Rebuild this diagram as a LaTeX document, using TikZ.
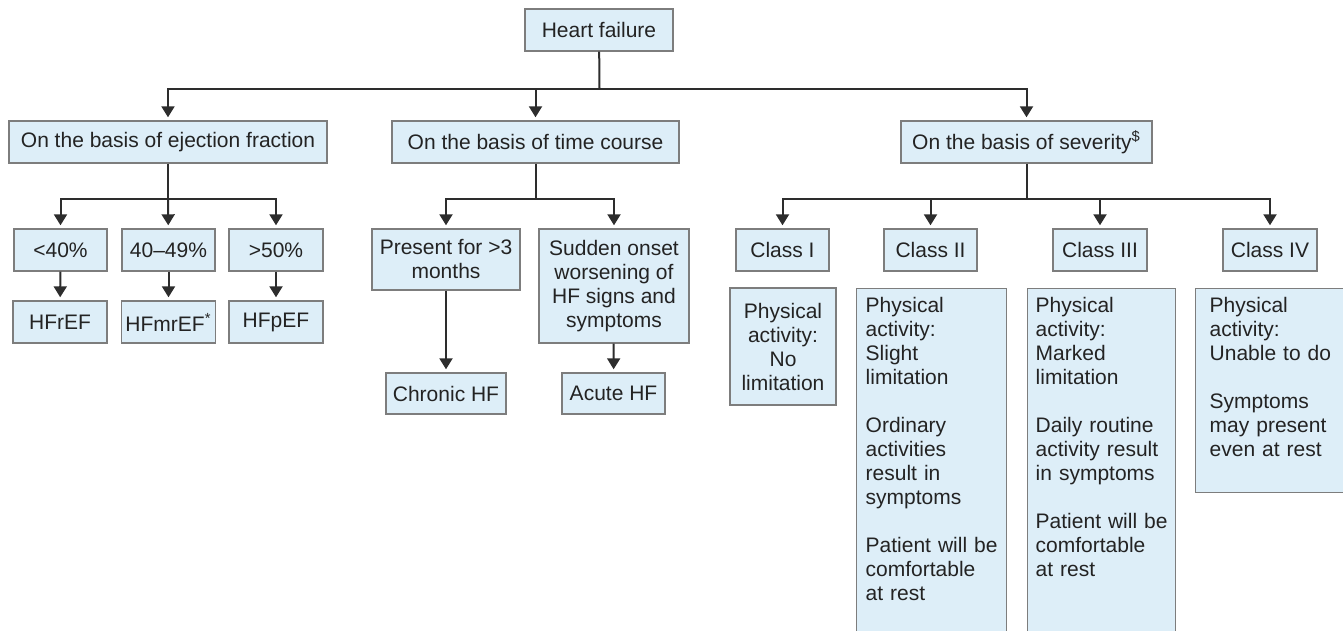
\documentclass[tikz,border=0pt]{standalone}
\usepackage{fontspec}
\setmainfont{Liberation Sans}
\usetikzlibrary{arrows.meta}
\definecolor{boxfill}{RGB}{221,238,248}
\definecolor{boxline}{RGB}{125,125,125}
\definecolor{linkcol}{RGB}{45,45,45}
\definecolor{txtcol}{RGB}{35,35,35}

\begin{document}
\begin{tikzpicture}
    [x=0.5pt,y=-0.5pt,>={Triangle[length=5.5pt,width=6.5pt]},
     box/.style={rectangle,draw=boxline,fill=boxfill,line width=0.7pt,text=txtcol,
       font=\fontsize{10.5}{12}\selectfont,inner sep=2pt,minimum height=21pt,align=center},
     descbox/.style={box,anchor=north west,align=left,inner xsep=4.5pt,inner ysep=4pt,text height=8pt},
     link/.style={draw=linkcol,line width=1pt},
     linkarr/.style={link,->,shorten >=1.5pt}]
    \useasboundingbox (0,0) rectangle (1343,631);
    \node (hf)      at (599,30)     [box,minimum width=74pt]    {Heart failure};
    \node (ejfrac)  at (168,142)    [box,minimum width=159pt]   {On the basis of ejection fraction};
    \node (timecrs) at (535.5,142)  [box,minimum width=143.5pt] {On the basis of time course};
    \node (sever)   at (1026.5,142) [box,minimum width=125.5pt] {On the basis of severity\textsuperscript{\$}};
    \node (lt40)    at (60.5,250)   [box,minimum width=46.5pt]  {<40\%};
    \node (mid)     at (168.5,250)  [box,minimum width=46.5pt]  {40\textendash 49\%};
    \node (gt50)    at (276,250)    [box,minimum width=47pt]    {>50\%};
    \node (hfref)   at (60,322)     [box,minimum width=47pt]    {HFrEF};
    \node (hfmref)  at (168.5,322)  [box,minimum width=46.5pt]  {HFmrEF\textsuperscript{*}};
    \node (hfpef)   at (276,322)    [box,minimum width=47pt]    {HFpEF};
    \node (pres3m)  at (446,259.5)  [box,minimum width=74pt,minimum height=30.5pt] {Present for >3\\months};
    \node (sudden)  at (614,286)    [box,minimum width=75pt,minimum height=57pt]   {Sudden onset\\worsening of\\HF signs and\\symptoms};
    \node (chronic) at (446,393.5)  [box,minimum width=60pt,minimum height=20.5pt] {Chronic HF};
    \node (acute)   at (613.5,393.5) [box,minimum width=51.5pt,minimum height=20.5pt] {Acute HF};
    \node (cls1)    at (782.5,250)  [box,minimum width=46.5pt]  {Class I};
    \node (cls2)    at (930.5,250)  [box,minimum width=46.5pt]  {Class II};
    \node (cls3)    at (1100,250)   [box,minimum width=47pt]    {Class III};
    \node (cls4)    at (1270,250)   [box,minimum width=47pt]    {Class IV};
    \node (desc1)   at (783,346.5)  [box,minimum width=53pt,minimum height=58.5pt] {Physical\\activity:\\No\\limitation};
    \node (desc2)   at (856,288)    [descbox,text width=66pt,text depth=165pt]
      {Physical\\activity:\\Slight\\limitation\\[12pt]Ordinary\\activities\\result in\\symptoms\\[12pt]Patient will be\\comfortable\\at rest};
    \node (desc3)   at (1027,288)   [descbox,inner xsep=4pt,text width=66pt,text depth=165pt]
      {Physical\\activity:\\Marked\\limitation\\[12pt]Daily routine\\activity result\\in symptoms\\[12pt]Patient will be\\comfortable\\at rest};
    \node (desc4)   at (1195,288)   [descbox,inner xsep=7pt,text width=61.5pt,text depth=86pt]
      {Physical\\activity:\\Unable to do\\[12pt]Symptoms\\may present\\even at rest};
    % top split
    \coordinate (hfsplit) at (599.5,89);
    \draw [link] (hf) -- (hfsplit);
    \draw [linkarr] (hfsplit) -| (ejfrac);
    \draw [linkarr] (hfsplit) -| (timecrs);
    \draw [linkarr] (hfsplit) -| (sever);
    % ejection fraction
    \path (ejfrac.south) ++(0,35) coordinate (efsplit);
    \draw [link] (ejfrac) -- (efsplit);
    \draw [linkarr] (efsplit) -| (lt40);
    \draw [linkarr] (efsplit) -- (mid);
    \draw [linkarr] (efsplit) -| (gt50);
    \draw [linkarr] (lt40) -- (hfref);
    \draw [linkarr] (mid) -- (hfmref);
    \draw [linkarr] (gt50) -- (hfpef);
    % time course
    \path (timecrs.south) ++(0,35) coordinate (tcsplit);
    \draw [link] (timecrs) -- (tcsplit);
    \draw [linkarr] (tcsplit) -| (pres3m);
    \draw [linkarr] (tcsplit) -| (sudden);
    \draw [linkarr] (pres3m) -- (chronic);
    \draw [linkarr] (sudden) -- (acute);
    % severity
    \path (sever.south) ++(0,35) coordinate (svsplit);
    \draw [link] (sever) -- (svsplit);
    \draw [linkarr] (svsplit) -| (cls1);
    \draw [linkarr] (svsplit) -| (cls2);
    \draw [linkarr] (svsplit) -| (cls3);
    \draw [linkarr] (svsplit) -| (cls4);
\end{tikzpicture}
\end{document}
